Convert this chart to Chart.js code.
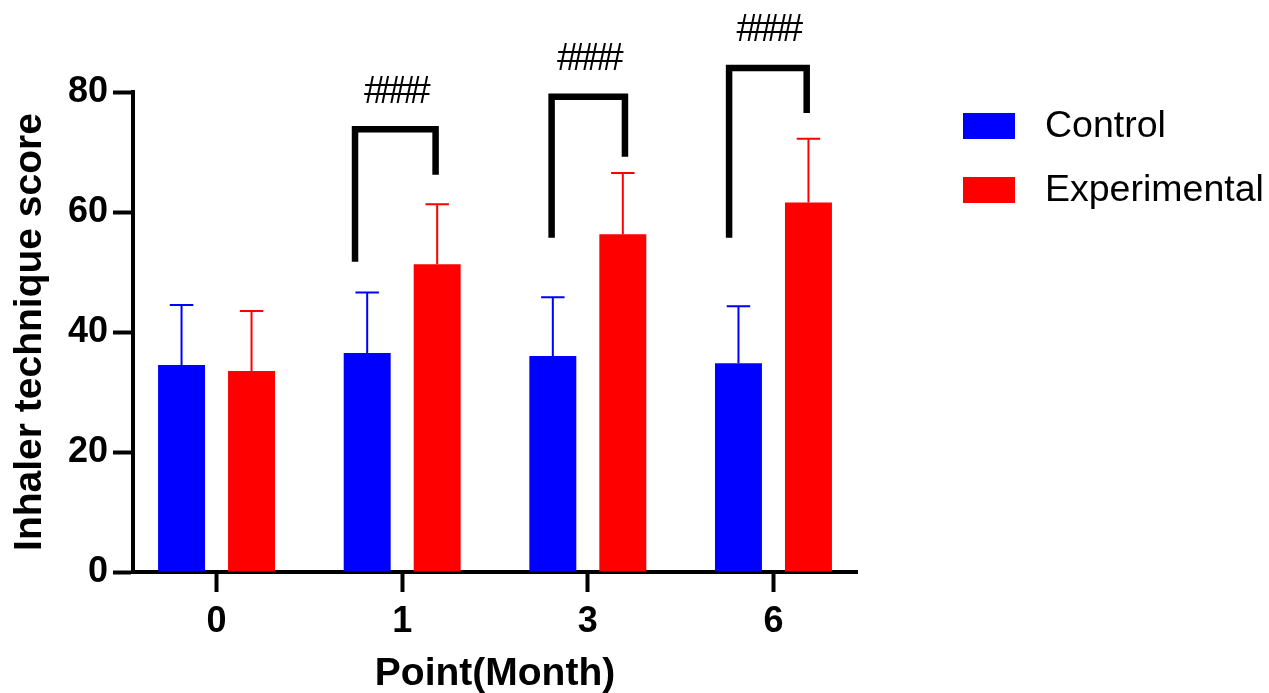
<!DOCTYPE html>
<html>
<head>
<meta charset="utf-8">
<script src="https://cdn.jsdelivr.net/npm/chart.js@4"></script>
<style>
html, body { margin: 0; padding: 0; background: #fff; }
</style>
</head>
<body>
<canvas id="myChart" width="1269" height="693"></canvas>
<script>
// donnees
const months = ['0', '1', '3', '6'];
const controlMean = [34.5, 36.5, 36.0, 34.8];
const controlSd = [10.0, 10.1, 9.8, 9.5];
const expMean = [33.5, 51.3, 56.3, 61.6];
const expSd = [10.0, 10.0, 10.2, 10.6];

// crochets de significativite (positions en unites d'axe)
const bracketLeft = [0.746, 1.805, 2.761];
const bracketRight = [1.18, 2.20, 3.179];
const bracketTop = [73.8, 79.2, 84.0];
const bracketLeftEnd = [51.7, 55.7, 55.7];
const bracketRightEnd = [66.2, 69.2, 76.5];
const bracketLabels = ['####', '####', '####'];

const FONT = "'Liberation Sans', Arial, sans-serif";

//barres d'erreur (SD vers le haut seulement)
const errorBars = {
  id: 'errorBars',
  afterDatasetsDraw(chart) {
    const ctx = chart.ctx;
    const y = chart.scales.y;
    chart.data.datasets.forEach((ds, di) => {
      const meta = chart.getDatasetMeta(di);
      meta.data.forEach((bar, i) => {
        const top = y.getPixelForValue(ds.data[i].y + ds.sd[i]);
        const half = bar.width / 4;
        ctx.save();
        ctx.strokeStyle = ds.backgroundColor;
        ctx.lineWidth = 2;
        ctx.beginPath();
        ctx.moveTo(bar.x, bar.y);
        ctx.lineTo(bar.x, top);
        ctx.moveTo(bar.x - half, top);
        ctx.lineTo(bar.x + half, top);
        ctx.stroke();
        ctx.restore();
      });
    });
  }
};

//crochets + ####
const brackets = {
  id: 'brackets',
  afterDraw(chart) {
    const ctx = chart.ctx;
    const xs = chart.scales.x, ys = chart.scales.y;
    bracketLeft.forEach((bl, k) => {
      const xL = xs.getPixelForValue(bl);
      const xR = xs.getPixelForValue(bracketRight[k]);
      const yT = ys.getPixelForValue(bracketTop[k]);
      ctx.save();
      ctx.strokeStyle = '#000';
      ctx.lineWidth = 6.5;
      ctx.lineJoin = 'miter';
      ctx.lineCap = 'butt';
      ctx.beginPath();
      ctx.moveTo(xL, ys.getPixelForValue(bracketLeftEnd[k]));
      ctx.lineTo(xL, yT);
      ctx.lineTo(xR, yT);
      ctx.lineTo(xR, ys.getPixelForValue(bracketRightEnd[k]));
      ctx.stroke();
      ctx.fillStyle = '#000';
      ctx.font = '38px ' + FONT;
      ctx.letterSpacing = '-6px';
      ctx.textAlign = 'center';
      ctx.textBaseline = 'middle';
      ctx.fillText(bracketLabels[k], (xL + xR) / 2 - 1, yT - 37);
      ctx.restore();
    });
  }
};

//legende a droite
const customLegend = {
  id: 'customLegend',
  afterDraw(chart) {
    const ctx = chart.ctx;
    chart.data.datasets.forEach((ds, i) => {
      const cy = 126 + i * 64;
      ctx.save();
      ctx.fillStyle = ds.backgroundColor;
      ctx.fillRect(963, cy - 13, 52, 26);
      ctx.fillStyle = '#000';
      ctx.font = '37.5px ' + FONT;
      ctx.textAlign = 'left';
      ctx.textBaseline = 'middle';
      ctx.fillText(ds.label, 1045, cy + 1);
      ctx.restore();
    });
  }
};

const axisFont = { family: FONT, size: 36, weight: 'bold' };
const titleFont = { family: FONT, size: 39, weight: 'bold', lineHeight: 1 };

new Chart(document.getElementById('myChart'), {
  type: 'bar',
  data: {
    datasets: [{
      label: 'Control',
      data: controlMean.map((v, i) => ({ x: i, y: v })),
      sd: controlSd,
      backgroundColor: '#0000ff',
      borderWidth: 0
    }, {
      label: 'Experimental',
      data: expMean.map((v, i) => ({ x: i, y: v })),
      sd: expSd,
      backgroundColor: '#ff0000',
      borderWidth: 0
    }]
  },
  options: {
    responsive: false,
    animation: false,
    devicePixelRatio: 1,
    layout: { padding: { top: 92, right: 412, left: 0, bottom: 0 } },
    categoryPercentage: 0.754,
    barPercentage: 0.671,
    plugins: { legend: { display: false }, tooltip: { enabled: false } },
    scales: {
      x: {
        type: 'linear',
        min: -0.45,
        max: 3.45,
        offset: false,
        afterFit: s => { s.height = 121; },
        ticks: {
          stepSize: 1,
          includeBounds: false,
          autoSkip: false,
          maxRotation: 0,
          callback: v => months[v] ?? '',
          font: axisFont,
          color: '#000',
          padding: 8
        },
        grid: { offset: false, drawOnChartArea: false, tickLength: 20, tickWidth: 4, tickColor: '#000' },
        border: { color: '#000', width: 4 },
        title: { display: true, text: 'Point(Month)', font: titleFont, color: '#000', padding: { top: 0, bottom: -1 } }
      },
      y: {
        min: 0,
        max: 80,
        afterFit: s => { s.width = 133; },
        ticks: { stepSize: 20, font: axisFont, color: '#000', padding: 5 },
        grid: { drawOnChartArea: false, tickLength: 20, tickWidth: 4, tickColor: '#000' },
        border: { color: '#000', width: 4 },
        title: { display: true, text: 'Inhaler technique score', font: titleFont, color: '#000', padding: { top: 10.5, bottom: 0 } }
      }
    }
  },
  plugins: [errorBars, brackets, customLegend]
});
</script>
</body>
</html>
